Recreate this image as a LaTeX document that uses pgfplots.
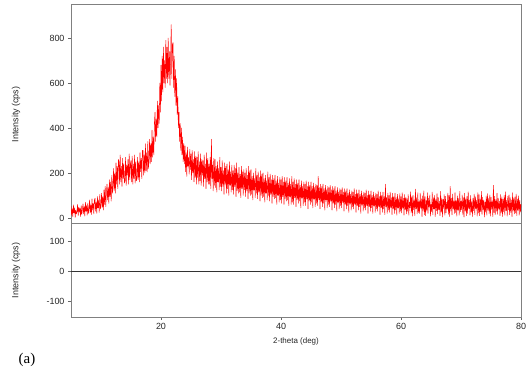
\documentclass[border=0pt]{standalone}
\usepackage{fontspec}
\setmainfont{Liberation Sans}
\newfontfamily\seriffont{Liberation Serif}
\usepackage{pgfplots}
\pgfplotsset{compat=1.18}
\usepackage{pgfplotstable}

% XRD scan, 5.0 to 80.0 deg 2-theta, step 0.1 deg (one line = one degree)
\pgfplotstableread[row sep=\\]{
y\\
52\\12\\40\\5\\58\\22\\45\\2\\35\\18\\
28\\60\\10\\48\\25\\44\\6\\55\\15\\38\\
62\\18\\50\\8\\70\\30\\55\\12\\66\\20\\
40\\80\\22\\58\\15\\85\\35\\66\\18\\78\\
88\\30\\70\\20\\95\\45\\80\\25\\105\\40\\
60\\110\\45\\95\\35\\125\\60\\140\\50\\115\\
150\\80\\135\\65\\170\\95\\160\\75\\190\\110\\
140\\220\\120\\200\\110\\245\\150\\230\\130\\260\\
250\\150\\280\\160\\230\\140\\265\\175\\240\\155\\
165\\270\\145\\235\\190\\260\\150\\285\\170\\240\\
255\\160\\275\\150\\240\\175\\280\\155\\250\\165\\
180\\270\\170\\250\\160\\290\\205\\265\\175\\300\\
300\\190\\280\\200\\330\\210\\290\\205\\340\\220\\
260\\350\\240\\330\\250\\390\\270\\360\\280\\420\\
470\\340\\440\\360\\520\\400\\500\\420\\600\\470\\
680\\520\\720\\560\\760\\600\\700\\580\\790\\620\\
760\\600\\800\\620\\740\\590\\700\\860\\620\\770\\
780\\580\\720\\540\\660\\500\\620\\460\\540\\400\\
470\\340\\420\\300\\400\\280\\360\\250\\330\\240\\
320\\205\\290\\185\\315\\230\\270\\195\\305\\215\\
285\\170\\300\\200\\260\\160\\295\\180\\275\\150\\
270\\180\\295\\150\\250\\165\\285\\145\\260\\190\\
255\\140\\280\\175\\240\\130\\290\\160\\265\\150\\
240\\150\\270\\130\\350\\175\\235\\120\\265\\145\\
260\\135\\230\\115\\250\\160\\220\\125\\270\\140\\
225\\120\\255\\140\\210\\105\\245\\150\\230\\110\\
240\\130\\215\\100\\250\\145\\205\\115\\235\\125\\
210\\105\\235\\140\\220\\95\\245\\120\\200\\110\\
225\\115\\195\\90\\230\\130\\205\\100\\215\\125\\
200\\95\\220\\120\\190\\85\\230\\110\\210\\100\\
215\\105\\185\\80\\200\\125\\175\\90\\220\\110\\
190\\85\\205\\115\\180\\75\\210\\100\\195\\90\\
200\\95\\175\\70\\190\\110\\165\\80\\205\\100\\
180\\75\\195\\105\\170\\65\\190\\95\\175\\85\\
190\\90\\165\\60\\185\\100\\155\\70\\180\\80\\
170\\65\\185\\95\\160\\60\\180\\85\\165\\75\\
180\\80\\155\\55\\175\\95\\150\\60\\185\\70\\
160\\60\\175\\90\\150\\50\\170\\80\\155\\65\\
170\\75\\145\\45\\165\\90\\140\\55\\160\\70\\
150\\55\\165\\85\\140\\40\\160\\75\\145\\60\\
160\\70\\140\\45\\155\\85\\135\\50\\150\\65\\
145\\55\\185\\80\\135\\40\\150\\70\\140\\50\\
150\\65\\130\\35\\145\\80\\125\\45\\140\\60\\
135\\50\\145\\75\\125\\35\\140\\65\\130\\45\\
140\\60\\120\\30\\135\\70\\115\\40\\130\\55\\
125\\45\\135\\70\\115\\30\\130\\60\\120\\40\\
130\\55\\110\\25\\125\\65\\105\\35\\120\\50\\
115\\40\\130\\60\\105\\25\\125\\55\\110\\35\\
125\\50\\105\\20\\120\\60\\100\\30\\115\\45\\
110\\35\\125\\55\\100\\20\\120\\50\\105\\30\\
120\\45\\100\\20\\115\\55\\95\\25\\110\\40\\
105\\30\\120\\50\\95\\15\\115\\45\\100\\25\\
115\\40\\95\\15\\150\\50\\90\\20\\110\\35\\
100\\25\\115\\45\\90\\15\\110\\40\\95\\20\\
110\\35\\90\\12\\105\\45\\85\\20\\108\\30\\
95\\22\\112\\42\\88\\12\\104\\36\\92\\18\\
86\\30\\104\\12\\70\\45\\116\\22\\95\\8\\
100\\36\\80\\10\\128\\40\\90\\18\\112\\24\\
72\\20\\110\\44\\85\\6\\98\\30\\120\\14\\
95\\10\\78\\34\\112\\20\\88\\48\\102\\8\\
60\\28\\115\\14\\90\\40\\100\\6\\84\\32\\
108\\18\\92\\36\\74\\10\\118\\26\\86\\4\\
82\\42\\104\\12\\96\\22\\70\\38\\110\\16\\
100\\6\\140\\30\\88\\14\\106\\40\\76\\20\\
112\\24\\78\\8\\98\\34\\86\\12\\118\\28\\
74\\36\\102\\16\\90\\4\\110\\30\\84\\10\\
96\\20\\116\\40\\80\\12\\100\\26\\72\\6\\
88\\32\\106\\14\\94\\42\\78\\8\\112\\22\\
104\\10\\84\\28\\118\\16\\92\\36\\80\\4\\
70\\26\\98\\12\\108\\34\\86\\18\\102\\8\\
92\\38\\76\\6\\145\\24\\96\\14\\82\\30\\
110\\16\\88\\40\\74\\10\\104\\22\\94\\6\\
84\\28\\100\\12\\116\\32\\78\\8\\96\\36\\
102\\14\\90\\24\\80\\6\\112\\30\\86\\18\\
94\\22\\106\\10\\84\\34\\98\\12\\78\\26\\
60\\
}\xrd

\begin{document}
\begin{tikzpicture}
\path[use as bounding box] (0,0) rectangle (532bp,376bp);
\pgfplotsset{
  myaxis/.style={
    anchor=south west, scale only axis, width=450bp,
    xmin=5, xmax=80,
    tick align=outside, major tick length=3bp,
    axis line style={draw=black!50, line width=1pt},
    every tick/.style={black!60, line width=0.6pt},
    ticklabel style={font=\fontsize{9}{10}\selectfont, text=black!85},
    /pgf/number format/assume math mode=true,
    ylabel style={at={(axis description cs:-0.122,0.5)}, anchor=center, font=\fontsize{9}{10}\selectfont, text=black!85},
  }
}
\begin{axis}[myaxis,
  at={(71bp,152bp)}, height=219bp,
  ymin=-27, ymax=947,
  xtick=\empty, ytick={0,200,400,600,800}, ytick pos=left,
  ylabel={Intensity (cps)},
]
\addplot[red, line width=0.5pt, line join=round, line cap=round] table[x expr=5+0.1*\coordindex, y index=0] {\xrd};
\end{axis}
\begin{axis}[myaxis,
  at={(71bp,59bp)}, height=93bp,
  ymin=-153, ymax=157,
  xtick={20,40,60,80}, ytick={-100,0,100},
  xtick pos=bottom, ytick pos=left,
  ylabel={Intensity (cps)},
  xlabel={2-theta (deg)},
  xlabel style={at={(axis description cs:0.5,-0.258)}, anchor=center, font=\fontsize{8}{9}\selectfont, text=black!85},
]
\addplot[black!80, line width=0.7pt] coordinates {(5,0) (80,0)};
\end{axis}
\node[font=\seriffont\fontsize{15}{16}\selectfont] at (27bp,16bp) {(a)};
\end{tikzpicture}
\end{document}
